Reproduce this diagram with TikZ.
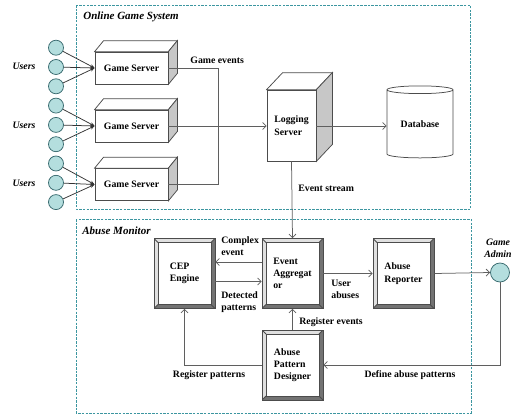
\documentclass[tikz,border=0pt]{standalone}
\usepackage{fontspec}
\setmainfont{Liberation Serif}
\usetikzlibrary{arrows.meta,shapes.geometric}

\definecolor{boxteal}{RGB}{60,150,160}
\definecolor{userfill}{RGB}{180,222,222}
\definecolor{userline}{RGB}{55,105,110}
\definecolor{linegray}{RGB}{95,95,95}

% top and side faces of a server cube
\newcommand{\cubefaces}[3]{
  \draw[black!70, fill=white] (#1.north west) -- ([xshift=#2,yshift=#3]#1.north west)
    -- ([xshift=#2,yshift=#3]#1.north east) -- (#1.north east) -- cycle;
  \draw[black!70, fill=black!22] (#1.north east) -- ([xshift=#2,yshift=#3]#1.north east)
    -- ([xshift=#2,yshift=#3]#1.south east) -- (#1.south east) -- cycle;
}
\def\bb{path picture bounding box}

\tikzset{
  lbl/.style={font=\bfseries\fontsize{9.8}{12.3}\selectfont, align=left, inner sep=0pt},
  title/.style={font=\bfseries\itshape\fontsize{9.8}{12.3}\selectfont, inner sep=0pt},
  grouptitle/.style={font=\bfseries\itshape\fontsize{11}{13}\selectfont, inner sep=0pt},
  group/.style={draw=boxteal, dash pattern=on 2.5pt off 1.2pt},
  wire/.style={draw=linegray},
  flow/.style={draw=linegray, -{Straight Barb[length=3.5pt,width=7pt]}},
  uarrow/.style={draw=black!80, -{Stealth[length=4.5pt,width=3.5pt]}},
  user/.style={circle, draw=userline, fill=userfill, minimum size=15pt, inner sep=0pt},
  server/.style={lbl, align=center, draw=black!70, fill=white, minimum width=73pt, minimum height=32pt},
  bevelbox/.style={lbl, draw=black!70, fill=black!12, minimum width=61pt, minimum height=70pt,
    path picture={
      \fill[black!55] (\bb.south west) -- (\bb.south east) -- (\bb.north east)
        -- ([xshift=-4pt,yshift=-4pt]\bb.north east) -- ([xshift=-4pt,yshift=4pt]\bb.south east)
        -- ([xshift=4pt,yshift=4pt]\bb.south west) -- cycle;
      \draw[black!70, fill=white] ([xshift=4pt,yshift=-4pt]\bb.north west)
        rectangle ([xshift=-4pt,yshift=4pt]\bb.south east);
      \draw[black!70] (\bb.north west) -- ([xshift=4pt,yshift=-4pt]\bb.north west);
      \draw[black!70] (\bb.north east) -- ([xshift=-4pt,yshift=-4pt]\bb.north east);
      \draw[black!70] (\bb.south west) -- ([xshift=4pt,yshift=4pt]\bb.south west);
      \draw[black!70] (\bb.south east) -- ([xshift=-4pt,yshift=4pt]\bb.south east);
    }}
}

\begin{document}
\begin{tikzpicture}[x=1pt,y=-1pt,line width=0.75pt]
  \useasboundingbox (0,0) rectangle (518,415);

  % Online game system
  \draw[group] (76,5) rectangle (470.5,209);
  \node[grouptitle, anchor=west] (ogs) at (83,17) {Online Game System};

  \node[server] (gs1) at (131.5,68) {Game Server};
  \node[server] (gs2) at (131.5,126) {Game Server};
  \node[server] (gs3) at (131.5,184.5) {Game Server};
  \cubefaces{gs1}{9pt}{11pt}
  \cubefaces{gs2}{9pt}{11pt}
  \cubefaces{gs3}{9pt}{11pt}

  \node[server, align=left, minimum width=49pt, minimum height=71pt] (ls) at (291.5,125.5) {Logging\\Server};
  \cubefaces{ls}{16pt}{17pt}

  \node[lbl, cylinder, shape border rotate=90, aspect=0.2, draw=black!70, fill=white,
    minimum width=66pt, minimum height=72pt] (db) at (420,124) {Database};

  % Users
  \node[user] (u1) at (56,47.7) {};
  \node[user] (u2) at (56,67) {};
  \node[user] (u3) at (56,86.3) {};
  \node[user] (u4) at (56,105.6) {};
  \node[user] (u5) at (56,124.9) {};
  \node[user] (u6) at (56,144.2) {};
  \node[user] (u7) at (56,163.5) {};
  \node[user] (u8) at (56,182.8) {};
  \node[user] (u9) at (56,202.1) {};
  \node[title] (usr1) at (24,66) {Users};
  \node[title] (usr2) at (24,125) {Users};
  \node[title] (usr3) at (24,183) {Users};

  \draw[uarrow] (u1) -- (gs1.west);
  \draw[uarrow] (u2) -- (gs1.west);
  \draw[uarrow] (u3) -- (gs1.west);
  \draw[uarrow] (u4) -- (gs2.west);
  \draw[uarrow] (u5) -- (gs2.west);
  \draw[uarrow] (u6) -- (gs2.west);
  \draw[uarrow] (u7) -- (gs3.west);
  \draw[uarrow] (u8) -- (gs3.west);
  \draw[uarrow] (u9) -- (gs3.west);

  % Game events
  \coordinate (join) at (218,126);
  \draw[wire] (gs1.east) -| (join);
  \draw[wire] (gs3.east) -| (join);
  \draw[flow] (gs2.east) -- (gs2.east -| ls.west);
  \node[lbl, anchor=west] (gev) at (190,60) {Game events};

  \draw[flow] (gs2.east -| ls.east) -- (gs2.east -| db.west);

  % Abuse monitor
  \draw[group] (76,219) rectangle (471,413);
  \node[grouptitle, anchor=west] (am) at (82,230.7) {Abuse Monitor};

  \node[bevelbox] (cep) at (184.5,273.5) {CEP\\Engine};
  \node[bevelbox] (ea) at (292.5,273.5) {Event\\Aggregat\\or};
  \node[bevelbox] (ar) at (403.5,273.5) {Abuse\\Reporter};
  \node[bevelbox] (apd) at (292.5,365) {Abuse\\Pattern\\Designer};

  \node[user, minimum size=19pt] (admin) at (500,272.5) {};
  \node[title, align=center] (admlbl) at (498,248) {Game\\Admin};

  % Event stream
  \draw[flow] (ls.south) -- (ea.north);
  \node[lbl, anchor=west] (evs) at (298,188) {Event stream};

  % Monitor flows
  \draw[flow] ([yshift=11.5pt]ea.west) -- ([yshift=11.5pt]cep.east);
  \node[lbl, anchor=west] (cpx) at (221,246) {Complex\\event};
  \draw[flow] ([yshift=-8pt]cep.east) -- ([yshift=-8pt]ea.west);
  \node[lbl, anchor=west] (det) at (221,302) {Detected\\patterns};
  \draw[flow] (ea.east) -- (ar.west);
  \node[lbl, anchor=west] (uab) at (331,289.5) {User\\abuses};
  \draw[flow] (ar.east) -- (admin.west);
  \draw[flow] (admin.south) |- (apd.east);
  \node[lbl] (dap) at (410,375) {Define abuse patterns};
  \draw[flow] (apd.north) -- (ea.south);
  \node[lbl, anchor=west] (rge) at (299,322) {Register events};
  \draw[flow] (apd.west) -| (cep.south);
  \node[lbl] (rgp) at (209,375) {Register patterns};
\end{tikzpicture}
\end{document}
